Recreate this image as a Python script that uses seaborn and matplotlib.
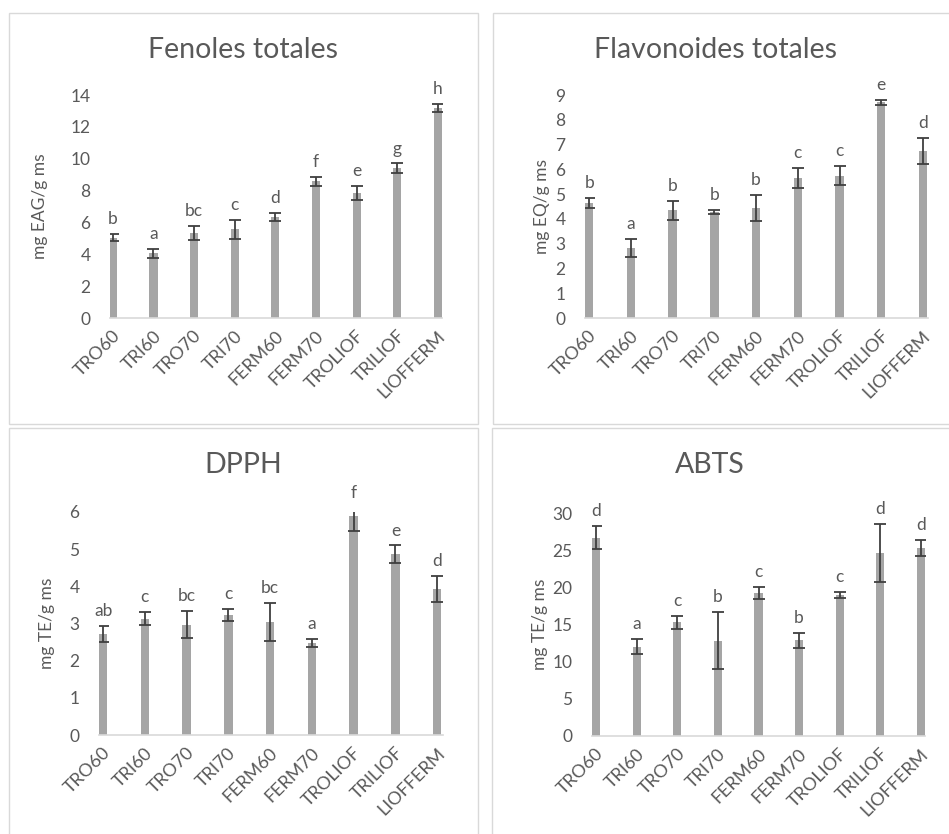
import matplotlib
matplotlib.use("Agg")
import matplotlib.pyplot as plt
import matplotlib.transforms as mtransforms
import seaborn as sns
import pandas as pd
from matplotlib.patches import Rectangle

sns.set_theme(style="white")
plt.rcParams['font.family'] = ['Lato', 'DejaVu Sans']

categories = ["TRO60", "TRI60", "TRO70", "TRI70", "FERM60", "FERM70", "TROLIOF", "TRILIOF", "LIOFFERM"]

fenoles = [5.05, 4.05, 5.33, 5.56, 6.33, 8.57, 7.84, 9.39, 13.2]
fenoles_err = [0.24, 0.31, 0.42, 0.58, 0.26, 0.31, 0.42, 0.31, 0.26]
fenoles_letters = ["b", "a", "bc", "c", "d", "f", "e", "g", "h"]

flavonoides = [4.65, 2.83, 4.34, 4.27, 4.44, 5.65, 5.75, 8.71, 6.73]
flavonoides_err = [0.21, 0.37, 0.37, 0.08, 0.54, 0.40, 0.37, 0.10, 0.52]
flavonoides_letters = ["b", "a", "b", "b", "b", "c", "c", "e", "d"]

dpph = [2.72, 3.13, 2.97, 3.24, 3.05, 2.47, 5.9, 4.86, 3.92]
dpph_err = [0.21, 0.18, 0.37, 0.16, 0.51, 0.11, 0.40, 0.24, 0.35]
dpph_letters = ["ab", "c", "bc", "c", "bc", "a", "f", "e", "d"]

abts = [26.7, 12.0, 15.3, 12.8, 19.2, 12.9, 19.0, 24.6, 25.3]
abts_err = [1.6, 1.0, 0.9, 3.85, 0.8, 1.0, 0.43, 3.9, 1.12]
abts_letters = ["d", "a", "c", "b", "c", "b", "c", "d", "d"]

TXT = "#595959"
BAR = "#A5A5A5"
ERR = "#3F3F3F"
GRID = "#D9D9D9"

W, H = 949, 834
fig = plt.figure(figsize=(W / 100, H / 100), dpi=100)
fig.patch.set_facecolor("white")

# panel frames (pixel coords from top-left)
for (x0, y0, x1, y1) in [(9, 13, 478, 424), (493, 13, 956, 424), (9, 428, 478, 840), (492, 428, 956, 840)]:
    fig.patches.append(Rectangle((x0 / W, 1 - y1 / H), (x1 - x0) / W, (y1 - y0) / H,
                                 transform=fig.transFigure, fill=False, edgecolor=GRID, lw=1.0))

panels = [
    dict(vals=fenoles, err=fenoles_err, let=fenoles_letters, title="Fenoles totales", ylabel="mg EAG/g ms",
         ax=(110, 95, 442, 318), ylim=14, yticks=range(0, 15, 2), xl=(-0.07, 8.1), title_xy=(243, 50), ylab_x=40),
    dict(vals=flavonoides, err=flavonoides_err, let=flavonoides_letters, title="Flavonoides totales", ylabel="mg EQ/g ms",
         ax=(585, 95, 928, 318), ylim=9, yticks=range(0, 10), xl=(-0.1, 8.12), title_xy=(716, 50), ylab_x=542),
    dict(vals=dpph, err=dpph_err, let=dpph_letters, title="DPPH", ylabel="mg TE/g ms",
         ax=(99, 512, 443, 735), ylim=6, yticks=range(0, 7), xl=(-0.1, 8.14), title_xy=(243, 465), ylab_x=47),
    dict(vals=abts, err=abts_err, let=abts_letters, title="ABTS", ylabel="mg TE/g ms",
         ax=(592, 513, 925, 736), ylim=30, yticks=range(0, 31, 5), xl=(-0.1, 8.1), title_xy=(710, 465), ylab_x=540),
]

shift = mtransforms.ScaledTranslation(5 / 100, 0, fig.dpi_scale_trans)

for p in panels:
    x0, y0, x1, y1 = p["ax"]
    ax = fig.add_axes([x0 / W, 1 - y1 / H, (x1 - x0) / W, (y1 - y0) / H])
    df = pd.DataFrame({"cat": categories, "val": p["vals"]})
    sns.barplot(data=df, x="cat", y="val", color=BAR, width=0.2, errorbar=None, ax=ax,
                saturation=1, edgecolor="none")
    ax.errorbar(range(len(categories)), p["vals"], yerr=p["err"], fmt="none", ecolor=ERR,
                elinewidth=1.3, capsize=4.5, capthick=1.3, zorder=5)
    ax.set_xlim(*p["xl"])
    ax.set_ylim(0, p["ylim"])
    ax.set_yticks(list(p["yticks"]))
    ax.set_xlabel("")
    ax.set_ylabel("")
    for s in ["top", "right", "left"]:
        ax.spines[s].set_visible(False)
    ax.spines["bottom"].set_color(GRID)
    ax.spines["bottom"].set_linewidth(1.2)
    ax.tick_params(axis="y", length=0, labelsize=12.5, labelcolor=TXT, pad=14)
    ax.tick_params(axis="x", length=0, labelsize=13, labelcolor=TXT, pad=11)
    ax.set_xticks(range(len(categories)))
    ax.set_xticklabels(categories, rotation=45, ha="right", va="center", rotation_mode="anchor")
    for lbl in ax.get_xticklabels():
        lbl.set_transform(lbl.get_transform() + shift)
    ax.set_facecolor("none")
    for i, (v, e, l) in enumerate(zip(p["vals"], p["err"], p["let"])):
        top = min(v + e, p["ylim"] * 1.02)
        ax.annotate(l, (i, top), xytext=(0, 5), textcoords="offset points", ha="center", va="bottom",
                    fontsize=12.5, color=TXT, annotation_clip=False)
    tx, ty = p["title_xy"]
    fig.text(tx / W, 1 - ty / H, p["title"], ha="center", va="center", fontsize=20.5, color=TXT)
    fig.text(p["ylab_x"] / W, 1 - ((y0 + y1) / 2) / H, p["ylabel"], rotation=90, ha="center", va="center",
             fontsize=12.5, color=TXT)

fig.savefig("out.png", dpi=100)
